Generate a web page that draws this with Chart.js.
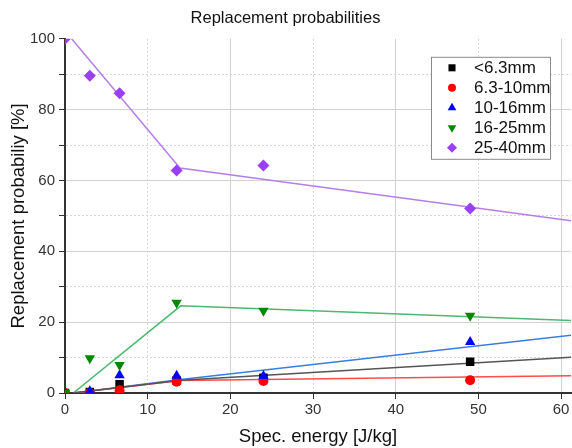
<!DOCTYPE html>
<html>
<head>
<meta charset="utf-8">
<script src="https://cdn.jsdelivr.net/npm/chart.js@4.4.1/dist/chart.umd.min.js"></script>
<style>
  html, body { margin: 0; padding: 0; background: #fff; }
  #wrap { width: 572px; height: 448px; }
</style>
</head>
<body>
<div id="wrap"><canvas id="grafico" width="572" height="448"></canvas></div>
<script>
// datos medidos (energía específica en J/kg)
const energia = [0, 3, 6.6, 13.5, 24, 49];
const menor63 = [0, 0.3, 2.5, 3.5, 4.3, 8.8];
const de63a10 = [0, 0, 0.8, 3.2, 3.4, 3.6];
const de10a16 = [0, 0.5, 5.0, 4.9, 4.8, 14.4];
const de16a25 = [0, 9.8, 7.9, 25.5, 23.2, 21.8];
const de25a40 = [100, 89.6, 84.6, 62.8, 64.2, 52.1];

// curvas de ajuste (tramos)
const ajusteX = [1, 14, 61.2];
const ajusteMenor63 = [0, 3.6, 10.1];
const ajuste63a10 = [0, 3.5, 4.9];
const ajuste10a16 = [0, 3.8, 16.3];
const ajuste16a25 = [0, 24.6, 20.5];
const ajuste25a40X = [0.8, 13.9, 61.2];
const ajuste25a40 = [100, 63.5, 48.6];

const etiquetas = ['<6.3mm', '6.3-10mm', '10-16mm', '16-25mm', '25-40mm'];
const ticksX = [0, 10, 20, 30, 40, 50, 60];
const ticksY = [0, 10, 20, 30, 40, 50, 60, 70, 80, 90, 100];

const puntos = (xs, ys) => xs.map((x, i) => ({ x: x, y: ys[i] }));

const series = [
  { datos: menor63, ajuste: ajusteMenor63, ax: ajusteX, color: '#000000', linea: '#555555', estilo: 'rect', radio: 6, rot: 0 },
  { datos: de63a10, ajuste: ajuste63a10, ax: ajusteX, color: '#ff0000', linea: '#ff4d4d', estilo: 'circle', radio: 5, rot: 0 },
  { datos: de10a16, ajuste: ajuste10a16, ax: ajusteX, color: '#0000ff', linea: '#3a7de0', estilo: 'triangle', radio: 6, rot: 0 },
  { datos: de16a25, ajuste: ajuste16a25, ax: ajusteX, color: '#008800', linea: '#4cb870', estilo: 'triangle', radio: 6, rot: 180 },
  { datos: de25a40, ajuste: ajuste25a40, ax: ajuste25a40X, color: '#9b3ff5', linea: '#b77ee8', estilo: 'rectRot', radio: 6, rot: 0 }
];

const datasets = [];
series.forEach((s, i) => {
  datasets.push({
    type: 'scatter',
    label: etiquetas[i],
    data: puntos(energia, s.datos),
    pointStyle: s.estilo,
    pointRotation: s.rot,
    pointRadius: s.radio,
    pointBackgroundColor: s.color,
    pointBorderColor: s.color,
    pointBorderWidth: 0,
    showLine: false,
    order: 4 - i
  });
});
series.forEach((s) => {
  datasets.push({
    type: 'line',
    label: '',
    data: puntos(s.ax, s.ajuste),
    borderColor: s.linea,
    borderWidth: 1.5,
    pointRadius: 0,
    fill: false,
    tension: 0,
    order: 10
  });
});

const fuente = '"Liberation Sans", Arial, sans-serif';

// leyenda dentro del área del gráfico
const leyendaInterna = {
  id: 'leyendaInterna',
  afterDraw(chart) {
    const ctx = chart.ctx;
    const area = chart.chartArea;
    const ancho = 119, alto = 102;
    const x0 = area.right - 21 - ancho;
    const y0 = area.top + 18;
    ctx.save();
    ctx.fillStyle = '#ffffff';
    ctx.fillRect(x0, y0, ancho, alto);
    ctx.strokeStyle = '#8a8a8a';
    ctx.lineWidth = 1;
    ctx.strokeRect(x0 + 0.5, y0 + 0.5, ancho, alto);
    ctx.font = '17px ' + fuente;
    ctx.textBaseline = 'middle';
    series.forEach((s, i) => {
      const y = y0 + 11 + i * 20;
      ctx.fillStyle = s.color;
      ctx.strokeStyle = s.color;
      Chart.helpers.drawPoint(ctx, { pointStyle: s.estilo, rotation: s.rot, radius: s.radio - 1, borderWidth: 0 }, x0 + 21, y);
      ctx.fillStyle = '#111';
      ctx.fillText(etiquetas[i], x0 + 43, y + 1);
    });
    ctx.restore();
  }
};

const colorRejilla = (ctx) => {
  if (!ctx.tick) return 'rgba(0,0,0,0)';
  const v = ctx.tick.value;
  if (v === 0 || v === 100) return 'rgba(0,0,0,0)';
  return v % 20 === 0 ? '#d2d2d2' : '#d6d6d6';
};
const trazoRejilla = (ctx) => (ctx.tick && ctx.tick.value % 20 !== 0) ? [2, 2] : [];

new Chart(document.getElementById('grafico').getContext('2d'), {
  data: { datasets: datasets },
  options: {
    responsive: false,
    animation: false,
    layout: { autoPadding: false, padding: { left: 0, right: 1, top: 0, bottom: 0 } },
    plugins: {
      legend: { display: false },
      tooltip: { enabled: false },
      title: {
        display: true,
        text: 'Replacement probabilities',
        color: '#111',
        font: { family: fuente, size: 16.5, weight: 'normal' },
        padding: { top: 9, bottom: 10 }
      }
    },
    scales: {
      x: {
        type: 'linear',
        min: 0,
        max: 61.2,
        afterBuildTicks: (s) => { s.ticks = ticksX.map(v => ({ value: v })); },
        afterFit: (s) => { s.height = 55; s.paddingRight = 0; s.paddingLeft = 0; },
        ticks: { color: '#333', font: { family: fuente, size: 15 }, padding: 2 },
        grid: { color: colorRejilla, tickColor: '#333', tickLength: 6, lineWidth: 1 },
        border: { color: '#333', width: 2, dash: trazoRejilla },
        title: {
          display: true,
          text: 'Spec. energy [J/kg]',
          color: '#111',
          font: { family: fuente, size: 18.5 },
          padding: { top: 0, bottom: 0 }
        }
      },
      y: {
        type: 'linear',
        min: 0,
        max: 100,
        afterBuildTicks: (s) => { s.ticks = ticksY.map(v => ({ value: v })); },
        afterFit: (s) => { s.width = 65; },
        ticks: {
          color: '#333',
          font: { family: fuente, size: 15 },
          padding: 4,
          callback: (v) => (v % 20 === 0 ? v : '')
        },
        grid: { color: colorRejilla, tickColor: '#333', tickLength: 6, lineWidth: 1 },
        border: { color: '#333', width: 2, dash: trazoRejilla },
        title: {
          display: true,
          text: 'Replacement probabiliy [%]',
          color: '#111',
          font: { family: fuente, size: 18.5 },
          padding: { top: 8, bottom: 0 }
        }
      }
    }
  },
  plugins: [leyendaInterna]
});
</script>
</body>
</html>
